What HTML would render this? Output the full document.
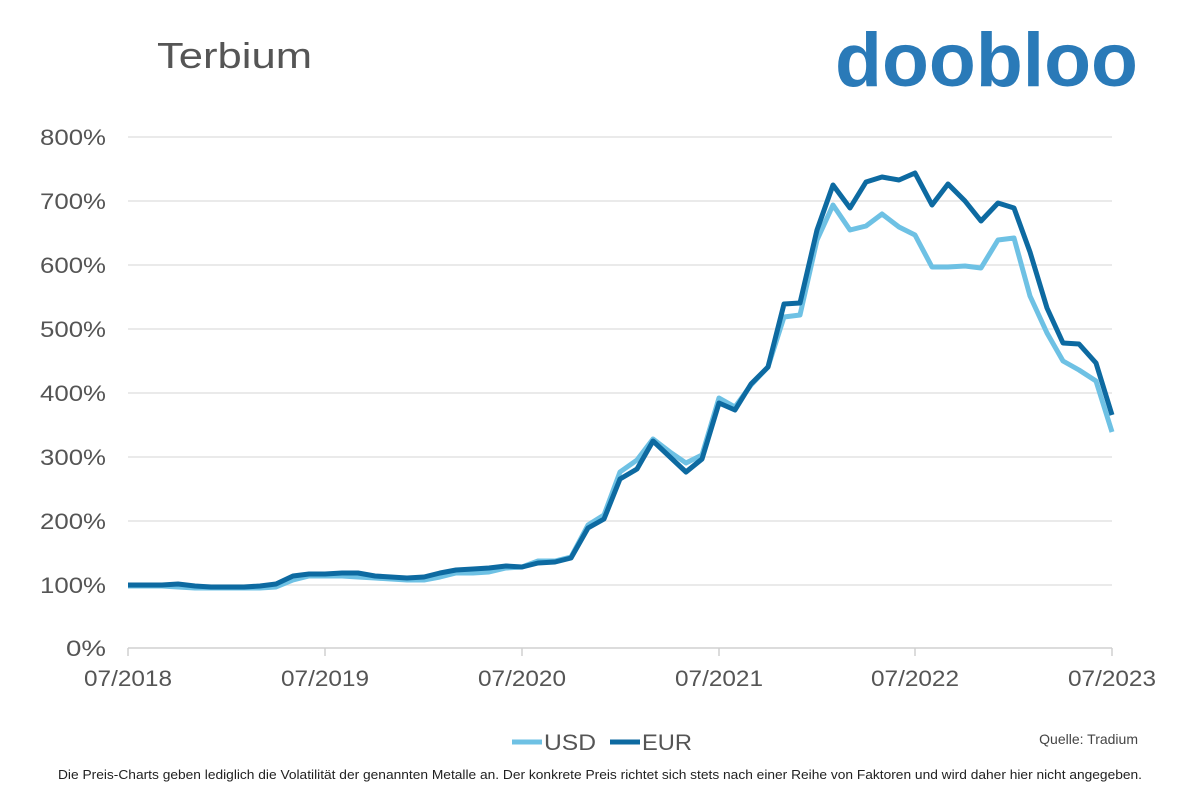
<!DOCTYPE html>
<html><head><meta charset="utf-8"><style>
body{margin:0;width:1200px;height:800px;background:#fff;overflow:hidden;font-family:"Liberation Sans",sans-serif}
</style></head><body>
<svg width="1200" height="800" xmlns="http://www.w3.org/2000/svg" font-family="Liberation Sans, sans-serif">
<rect width="1200" height="800" fill="#fff"/>
<text x="157" y="68" font-size="36" fill="#555" textLength="155" lengthAdjust="spacingAndGlyphs">Terbium</text>
<text x="835" y="86" font-size="76" font-weight="bold" fill="#2a7ab8" textLength="303" lengthAdjust="spacingAndGlyphs">doobloo</text>
<g stroke="#e3e3e3" stroke-width="1.5">
<line x1="128" x2="1112" y1="137" y2="137"/><line x1="128" x2="1112" y1="201" y2="201"/>
<line x1="128" x2="1112" y1="265" y2="265"/><line x1="128" x2="1112" y1="329" y2="329"/>
<line x1="128" x2="1112" y1="393" y2="393"/><line x1="128" x2="1112" y1="457" y2="457"/>
<line x1="128" x2="1112" y1="521" y2="521"/><line x1="128" x2="1112" y1="585" y2="585"/>
</g>
<line x1="128" x2="1112" y1="648" y2="648" stroke="#d0d0d0" stroke-width="1.5"/>
<g stroke="#d0d0d0" stroke-width="1.5">
<line x1="128" x2="128" y1="648" y2="656"/><line x1="325" x2="325" y1="648" y2="656"/>
<line x1="522" x2="522" y1="648" y2="656"/><line x1="719" x2="719" y1="648" y2="656"/>
<line x1="915" x2="915" y1="648" y2="656"/><line x1="1112" x2="1112" y1="648" y2="656"/>
</g>
<g font-size="22" fill="#555" text-anchor="end">
<text x="106" y="145" textLength="66" lengthAdjust="spacingAndGlyphs">800%</text><text x="106" y="209" textLength="66" lengthAdjust="spacingAndGlyphs">700%</text><text x="106" y="273" textLength="66" lengthAdjust="spacingAndGlyphs">600%</text>
<text x="106" y="337" textLength="66" lengthAdjust="spacingAndGlyphs">500%</text><text x="106" y="401" textLength="66" lengthAdjust="spacingAndGlyphs">400%</text><text x="106" y="465" textLength="66" lengthAdjust="spacingAndGlyphs">300%</text>
<text x="106" y="529" textLength="66" lengthAdjust="spacingAndGlyphs">200%</text><text x="106" y="593" textLength="66" lengthAdjust="spacingAndGlyphs">100%</text><text x="106" y="656" textLength="40" lengthAdjust="spacingAndGlyphs">0%</text>
</g>
<g font-size="22" fill="#555" text-anchor="middle">
<text x="128" y="686" textLength="88" lengthAdjust="spacingAndGlyphs">07/2018</text><text x="325" y="686" textLength="88" lengthAdjust="spacingAndGlyphs">07/2019</text><text x="522" y="686" textLength="88" lengthAdjust="spacingAndGlyphs">07/2020</text>
<text x="719" y="686" textLength="88" lengthAdjust="spacingAndGlyphs">07/2021</text><text x="915" y="686" textLength="88" lengthAdjust="spacingAndGlyphs">07/2022</text><text x="1112" y="686" textLength="88" lengthAdjust="spacingAndGlyphs">07/2023</text>
</g>
<polyline fill="none" stroke="#6ec1e4" stroke-width="5" stroke-linejoin="round" points="128,586 145,586 162,586 178,587 195,588 211,588 227,588 244,588 260,588 276,587 293,580 309,576 325,576 342,576 358,577 375,578 391,579 407,580 424,580 440,577 456,573 473,573 489,572 506,568 522,567 538,561 555,561 571,557 588,525 604,515 620,472 637,460 653,439 670,452 686,463 702,455 719,398 735,407 751,385 768,367 784,317 800,315 817,240 833,205 850,230 866,226 882,214 899,227 915,235 932,267 948,267 965,266 981,268 998,240 1014,238 1030,296 1047,333 1063,361 1079,370 1096,381 1112,432"/>
<polyline fill="none" stroke="#0d6aa1" stroke-width="5" stroke-linejoin="round" points="128,585 145,585 162,585 178,584 195,586 211,587 227,587 244,587 260,586 276,584 293,576 309,574 325,574 342,573 358,573 375,576 391,577 407,578 424,577 440,573 456,570 473,569 489,568 506,566 522,567 538,563 555,562 571,558 588,528 604,519 620,479 637,469 653,441 670,457 686,472 702,459 719,403 735,410 751,384 768,367 784,304 800,303 817,230 833,185 850,208 866,182 882,177 899,180 915,173 932,205 948,184 965,201 981,221 998,203 1014,208 1030,252 1047,308 1063,343 1079,344 1096,363 1112,415"/>
<line x1="512" x2="542" y1="742" y2="742" stroke="#6ec1e4" stroke-width="5"/>
<text x="544" y="750" font-size="22" fill="#555" textLength="52" lengthAdjust="spacingAndGlyphs">USD</text>
<line x1="610" x2="640" y1="742" y2="742" stroke="#0d6aa1" stroke-width="5"/>
<text x="642" y="750" font-size="22" fill="#555" textLength="50" lengthAdjust="spacingAndGlyphs">EUR</text>
<text x="1138" y="744" font-size="14" fill="#444" text-anchor="end">Quelle: Tradium</text>
<text x="58" y="779" font-size="12.5" fill="#222" textLength="1084" lengthAdjust="spacingAndGlyphs">Die Preis-Charts geben lediglich die Volatilität der genannten Metalle an. Der konkrete Preis richtet sich stets nach einer Reihe von Faktoren und wird daher hier nicht angegeben.</text>
</svg>
</body></html>
